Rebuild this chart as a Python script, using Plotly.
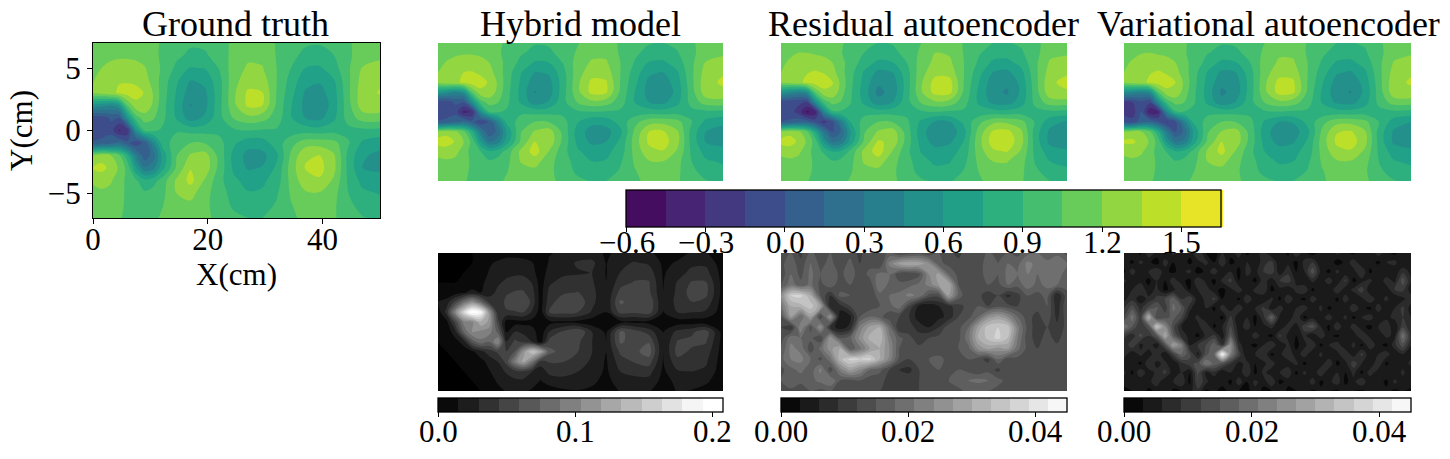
import numpy as np
import plotly.graph_objects as go

W, H = 1450, 459
FONT = "Liberation Serif"

x_grid = [0, 1.5, 3, 4.5, 6, 7.5, 9, 10.5, 12, 14.5, 17, 19.5, 22, 24.5, 27, 29.5, 32, 34.5, 37, 39.5, 42, 44.5, 47, 50]
y_grid = [7, 6, 5, 4, 3, 2, 1, 0, -1, -2, -3, -4, -5, -6, -7]

truth = [
    [1.10,1.10,1.10,1.10,1.10,1.10,1.10,1.09,1.03,0.97,0.92,0.93,0.99,1.08,1.12,1.12,1.04,0.97,0.92,0.91,0.94,1.03,1.12,1.13],
    [1.12,1.13,1.15,1.17,1.17,1.16,1.14,1.10,1.02,0.93,0.87,0.88,0.96,1.10,1.17,1.16,1.04,0.94,0.86,0.85,0.90,1.02,1.14,1.16],
    [1.16,1.20,1.26,1.28,1.28,1.26,1.21,1.13,1.03,0.87,0.74,0.76,0.91,1.13,1.22,1.21,1.05,0.90,0.75,0.73,0.84,1.03,1.21,1.27],
    [1.19,1.26,1.31,1.34,1.33,1.31,1.26,1.14,1.00,0.78,0.60,0.64,0.85,1.15,1.28,1.28,1.05,0.84,0.65,0.62,0.74,1.02,1.27,1.33],
    [1.22,1.25,1.30,1.37,1.42,1.41,1.34,1.19,0.99,0.74,0.52,0.57,0.84,1.17,1.38,1.36,1.04,0.80,0.58,0.54,0.69,1.02,1.30,1.36],
    [0.55,0.50,0.45,0.55,1.05,1.30,1.32,1.17,0.97,0.72,0.44,0.55,0.85,1.16,1.38,1.35,1.02,0.76,0.55,0.47,0.68,1.00,1.29,1.30],
    [-0.10,-0.08,0.02,0.00,0.55,0.98,1.12,1.07,0.95,0.74,0.52,0.63,0.85,1.06,1.15,1.11,0.98,0.76,0.60,0.56,0.72,0.97,1.12,1.13],
    [-0.10,-0.08,-0.05,-0.32,-0.25,0.55,0.92,0.92,0.88,0.88,0.85,0.85,0.86,0.87,0.90,0.88,0.88,0.82,0.84,0.82,0.85,0.85,0.86,0.85],
    [0.02,0.05,0.10,0.20,0.05,-0.10,0.05,0.45,0.80,0.98,1.05,1.04,0.95,0.78,0.66,0.68,0.82,1.00,1.13,1.14,1.10,0.92,0.72,0.66],
    [1.21,1.29,1.22,1.08,0.80,0.35,0.05,0.22,0.62,1.04,1.22,1.27,1.00,0.70,0.55,0.55,0.72,1.08,1.33,1.35,1.22,0.85,0.62,0.56],
    [1.37,1.39,1.32,1.18,1.00,0.62,0.32,0.40,0.68,1.07,1.34,1.30,1.00,0.72,0.58,0.61,0.78,1.12,1.36,1.40,1.24,0.85,0.60,0.56],
    [1.22,1.26,1.22,1.14,1.00,0.92,0.80,0.84,0.96,1.22,1.40,1.18,0.95,0.78,0.70,0.72,0.82,1.10,1.29,1.33,1.17,0.87,0.70,0.68],
    [1.16,1.17,1.16,1.10,1.02,0.98,0.92,0.96,1.00,1.20,1.26,1.10,0.97,0.84,0.76,0.77,0.88,1.07,1.18,1.19,1.10,0.90,0.78,0.74],
    [1.12,1.12,1.12,1.09,1.02,1.00,0.98,1.00,1.04,1.14,1.16,1.09,0.97,0.88,0.82,0.83,0.92,1.04,1.12,1.12,1.07,0.94,0.84,0.80],
    [1.08,1.08,1.08,1.07,1.01,1.00,1.00,1.02,1.07,1.10,1.12,1.09,1.00,0.93,0.90,0.90,0.95,1.02,1.09,1.09,1.06,1.00,0.91,0.87],
]

hybrid = [
    [1.10,1.10,1.10,1.10,1.10,1.10,1.10,1.09,1.02,0.96,0.91,0.92,0.98,1.04,1.12,1.12,1.03,0.96,0.91,0.90,0.93,1.03,1.11,1.12],
    [1.13,1.15,1.16,1.18,1.18,1.16,1.13,1.08,1.00,0.92,0.86,0.87,0.96,1.07,1.16,1.16,1.03,0.93,0.85,0.84,0.89,1.01,1.14,1.16],
    [1.16,1.21,1.27,1.29,1.28,1.26,1.20,1.11,1.01,0.86,0.73,0.75,0.91,1.12,1.22,1.22,1.05,0.89,0.74,0.72,0.82,1.02,1.21,1.29],
    [1.20,1.27,1.32,1.35,1.36,1.32,1.26,1.13,0.99,0.76,0.59,0.62,0.85,1.14,1.29,1.28,1.05,0.83,0.63,0.60,0.73,1.02,1.27,1.34],
    [1.24,1.28,1.31,1.38,1.43,1.41,1.33,1.18,0.98,0.73,0.51,0.55,0.83,1.17,1.39,1.37,1.04,0.79,0.56,0.52,0.68,1.01,1.31,1.37],
    [0.58,0.52,0.43,0.52,1.05,1.31,1.31,1.15,0.96,0.71,0.44,0.53,0.84,1.16,1.40,1.37,1.02,0.75,0.54,0.46,0.66,0.99,1.29,1.32],
    [-0.10,-0.08,0.02,0.00,0.52,0.98,1.11,1.06,0.94,0.73,0.51,0.62,0.86,1.06,1.16,1.12,0.97,0.75,0.60,0.56,0.71,0.96,1.12,1.14],
    [-0.12,-0.10,-0.05,-0.36,-0.28,0.52,0.90,0.91,0.88,0.87,0.85,0.85,0.86,0.87,0.89,0.88,0.87,0.82,0.83,0.82,0.84,0.85,0.86,0.85],
    [0.02,0.06,0.12,0.20,0.05,-0.12,0.02,0.43,0.78,0.97,1.05,1.04,0.95,0.76,0.64,0.66,0.81,1.00,1.14,1.15,1.10,0.91,0.71,0.64],
    [1.25,1.30,1.24,1.09,0.78,0.33,0.03,0.20,0.60,1.04,1.22,1.28,1.00,0.68,0.53,0.54,0.71,1.08,1.35,1.37,1.22,0.84,0.60,0.53],
    [1.42,1.42,1.34,1.20,1.00,0.60,0.30,0.38,0.66,1.07,1.35,1.31,1.00,0.71,0.56,0.60,0.78,1.12,1.38,1.42,1.25,0.84,0.59,0.54],
    [1.25,1.28,1.24,1.15,0.97,0.90,0.78,0.82,0.95,1.23,1.42,1.19,0.95,0.77,0.69,0.71,0.82,1.10,1.30,1.34,1.18,0.87,0.69,0.66],
    [1.17,1.18,1.17,1.11,1.02,0.98,0.92,0.96,1.00,1.21,1.27,1.10,0.97,0.83,0.75,0.76,0.88,1.07,1.19,1.20,1.10,0.90,0.77,0.73],
    [1.12,1.12,1.12,1.09,1.02,1.00,0.98,1.00,1.04,1.14,1.16,1.09,0.97,0.87,0.81,0.82,0.92,1.04,1.12,1.13,1.08,0.94,0.83,0.79],
    [1.08,1.08,1.08,1.07,1.01,1.00,1.00,1.02,1.07,1.10,1.12,1.09,1.00,0.93,0.89,0.90,0.95,1.02,1.09,1.09,1.06,1.00,0.91,0.87],
]

residual = [
    [1.08,1.08,1.10,1.10,1.09,1.09,1.08,1.07,1.00,0.95,0.90,0.91,0.97,1.05,1.12,1.12,1.04,0.97,0.90,0.89,0.92,1.02,1.10,1.10],
    [1.12,1.17,1.20,1.20,1.18,1.16,1.13,1.06,0.98,0.90,0.84,0.86,0.95,1.08,1.20,1.18,1.04,0.92,0.83,0.82,0.88,1.00,1.16,1.17],
    [1.17,1.22,1.26,1.29,1.28,1.26,1.20,1.10,0.99,0.84,0.71,0.74,0.90,1.12,1.24,1.23,1.05,0.88,0.72,0.70,0.80,1.02,1.22,1.28],
    [1.20,1.27,1.30,1.34,1.37,1.34,1.26,1.11,0.97,0.73,0.56,0.60,0.84,1.15,1.30,1.29,1.05,0.81,0.60,0.56,0.70,1.01,1.27,1.33],
    [1.22,1.26,1.30,1.39,1.43,1.44,1.36,1.16,0.96,0.70,0.47,0.52,0.82,1.18,1.42,1.41,1.04,0.76,0.52,0.48,0.64,1.00,1.32,1.40],
    [0.56,0.48,0.40,0.50,1.05,1.30,1.32,1.12,0.94,0.68,0.41,0.50,0.83,1.18,1.41,1.40,1.02,0.72,0.50,0.43,0.63,0.98,1.30,1.33],
    [-0.10,-0.10,-0.12,-0.15,0.50,0.96,1.10,1.04,0.92,0.72,0.50,0.60,0.85,1.07,1.18,1.14,0.96,0.73,0.56,0.52,0.68,0.95,1.13,1.14],
    [-0.10,-0.08,-0.20,-0.48,-0.40,0.42,0.87,0.88,0.85,0.85,0.84,0.84,0.86,0.87,0.89,0.87,0.87,0.81,0.82,0.81,0.83,0.85,0.86,0.84],
    [0.00,0.03,0.10,0.10,-0.05,-0.22,-0.05,0.38,0.74,0.96,1.05,1.04,0.93,0.72,0.58,0.60,0.79,1.00,1.16,1.17,1.10,0.88,0.66,0.58],
    [1.24,1.30,1.24,1.08,0.74,0.28,-0.02,0.16,0.56,1.03,1.22,1.28,0.98,0.66,0.49,0.50,0.70,1.10,1.37,1.40,1.23,0.82,0.57,0.48],
    [1.40,1.42,1.33,1.18,0.98,0.55,0.26,0.33,0.63,1.07,1.37,1.31,0.99,0.69,0.53,0.57,0.76,1.14,1.42,1.45,1.26,0.82,0.56,0.50],
    [1.24,1.27,1.23,1.14,0.96,0.88,0.75,0.78,0.92,1.24,1.43,1.19,0.94,0.74,0.66,0.69,0.80,1.12,1.32,1.36,1.18,0.85,0.67,0.63],
    [1.16,1.17,1.16,1.10,1.02,0.97,0.91,0.95,0.99,1.22,1.28,1.10,0.96,0.80,0.72,0.74,0.86,1.08,1.20,1.21,1.11,0.88,0.75,0.71],
    [1.11,1.11,1.11,1.09,1.02,1.00,0.97,0.99,1.03,1.14,1.16,1.08,0.96,0.85,0.79,0.80,0.91,1.05,1.13,1.14,1.08,0.93,0.82,0.78],
    [1.08,1.08,1.08,1.06,1.01,1.00,0.99,1.01,1.06,1.10,1.11,1.08,0.99,0.92,0.88,0.89,0.94,1.03,1.09,1.10,1.06,0.99,0.90,0.86],
]

variational = [
    [1.10,1.10,1.10,1.10,1.09,1.09,1.08,1.07,1.01,0.95,0.91,0.92,0.97,1.05,1.13,1.13,1.04,0.96,0.90,0.89,0.92,1.03,1.12,1.13],
    [1.13,1.16,1.19,1.20,1.18,1.16,1.13,1.07,0.99,0.91,0.85,0.87,0.95,1.08,1.18,1.17,1.03,0.93,0.84,0.83,0.88,1.01,1.15,1.17],
    [1.17,1.22,1.27,1.29,1.28,1.26,1.20,1.10,1.00,0.85,0.71,0.74,0.90,1.12,1.22,1.22,1.05,0.88,0.73,0.71,0.81,1.02,1.21,1.29],
    [1.20,1.27,1.31,1.34,1.37,1.33,1.26,1.12,0.98,0.74,0.57,0.60,0.84,1.14,1.29,1.29,1.05,0.82,0.62,0.58,0.72,1.01,1.26,1.33],
    [1.22,1.26,1.30,1.38,1.42,1.42,1.35,1.17,0.97,0.71,0.49,0.53,0.82,1.17,1.40,1.38,1.04,0.77,0.54,0.49,0.66,1.00,1.30,1.37],
    [0.50,0.45,0.40,0.48,1.05,1.30,1.31,1.13,0.95,0.69,0.42,0.51,0.83,1.16,1.41,1.38,1.02,0.73,0.51,0.44,0.64,0.98,1.29,1.31],
    [-0.18,-0.15,-0.05,-0.12,0.50,0.96,1.10,1.05,0.93,0.72,0.50,0.61,0.85,1.06,1.16,1.12,0.96,0.74,0.57,0.54,0.69,0.95,1.12,1.13],
    [-0.20,-0.22,0.02,-0.42,-0.35,0.46,0.88,0.89,0.86,0.86,0.85,0.85,0.86,0.87,0.89,0.87,0.87,0.81,0.82,0.81,0.83,0.85,0.86,0.84],
    [-0.05,-0.10,0.10,0.15,0.00,-0.18,-0.02,0.40,0.76,0.96,1.05,1.04,0.94,0.73,0.60,0.62,0.80,1.00,1.14,1.15,1.09,0.89,0.68,0.60],
    [1.20,1.27,1.22,1.08,0.76,0.30,0.00,0.18,0.58,1.03,1.21,1.27,0.99,0.67,0.50,0.52,0.71,1.08,1.34,1.37,1.22,0.83,0.58,0.50],
    [1.38,1.38,1.30,1.18,0.98,0.57,0.28,0.35,0.65,1.07,1.35,1.30,0.99,0.70,0.54,0.58,0.77,1.12,1.38,1.43,1.25,0.83,0.57,0.52],
    [1.23,1.26,1.22,1.14,0.96,0.89,0.76,0.80,0.93,1.22,1.40,1.18,0.94,0.75,0.67,0.70,0.81,1.10,1.30,1.33,1.17,0.86,0.68,0.64],
    [1.16,1.17,1.16,1.10,1.02,0.97,0.91,0.95,0.99,1.20,1.26,1.10,0.96,0.81,0.73,0.75,0.87,1.07,1.18,1.19,1.10,0.89,0.76,0.72],
    [1.12,1.12,1.12,1.09,1.02,1.00,0.98,1.00,1.04,1.14,1.15,1.08,0.96,0.86,0.80,0.81,0.91,1.04,1.12,1.12,1.07,0.93,0.83,0.79],
    [1.09,1.09,1.09,1.07,1.01,1.00,1.00,1.02,1.07,1.10,1.11,1.08,1.00,0.93,0.89,0.90,0.95,1.03,1.10,1.10,1.07,1.00,0.91,0.87],
]

# error fields, in thousandths
hybrid_err_x = [0, 1.5, 3, 4.5, 6, 7.5, 9, 10.5, 12, 13.5, 15, 16.5, 18, 19.5, 22, 24.5, 27, 29.5, 32, 34.5, 37, 39.5, 42, 44.5, 47, 50]
hybrid_err = [
    [0,0,0,0,0,1,4,8,10,10,9,6,5,14,17,20,20,13,18,20,18,8,11,16,16,4],
    [0,0,0,0,0,4,13,17,20,20,19,16,6,16,22,32,34,14,26,31,27,12,16,26,26,6],
    [0,0,0,0,1,8,16,22,25,27,26,20,7,20,26,28,30,14,30,38,38,13,23,34,35,8],
    [0,0,0,1,4,12,19,27,33,36,37,29,8,27,36,36,32,15,38,46,46,14,31,46,46,8],
    [1,3,7,13,20,14,22,34,42,46,46,36,8,34,42,45,35,16,50,50,48,15,33,51,49,8],
    [16,22,50,85,110,80,40,30,50,48,60,40,8,38,55,56,34,16,62,52,58,15,35,44,40,7],
    [6,35,100,160,205,190,110,35,42,44,45,28,7,45,50,45,28,15,50,48,52,14,30,30,27,6],
    [2,10,50,95,100,130,115,50,8,8,10,9,3,9,12,10,6,3,10,11,10,4,7,7,6,2],
    [0,3,25,75,105,100,95,70,14,30,26,22,5,30,48,60,30,12,62,52,38,14,34,42,52,7],
    [0,3,8,22,65,85,75,105,30,48,40,30,8,50,56,48,30,15,62,52,58,15,46,48,46,8],
    [0,0,1,6,12,25,38,48,45,60,110,150,125,65,52,45,30,15,48,55,68,15,50,42,38,7],
    [0,0,0,1,3,10,20,30,50,95,125,90,40,46,45,38,27,13,38,46,52,14,40,35,32,6],
    [0,0,0,0,1,3,14,22,32,40,42,30,20,35,36,30,24,12,30,35,36,12,28,30,27,5],
    [0,0,0,0,0,1,8,17,22,26,26,20,14,20,24,22,18,10,22,24,24,10,18,20,18,3],
    [0,0,0,0,0,0,3,10,16,17,17,13,8,8,12,14,12,6,16,17,16,6,16,14,8,1],
]

residual_err = [
    [12,15,11,16,13,15,12,14,11,15,13,16,12,13,14,12,15,13,11,14,12,16,13,15,14,17,18,16,17,14],
    [14,17,13,18,14,16,13,16,12,14,12,22,28,30,29,25,16,14,13,15,13,17,15,18,17,22,20,19,21,18],
    [13,18,14,19,15,18,14,17,13,16,19,18,13,12,14,24,28,18,14,13,14,16,15,19,18,21,18,20,19,17],
    [15,20,16,19,14,17,13,15,12,13,21,17,16,17,19,22,27,30,15,13,14,15,14,18,16,20,17,19,18,16],
    [24,36,37,30,15,9,16,15,14,12,17,18,19,22,20,14,13,28,17,12,13,10,12,8,11,15,14,16,6,14],
    [20,30,32,35,28,6,8,12,14,13,15,17,20,12,5,4,6,8,11,13,15,12,14,13,12,14,13,15,7,15],
    [14,27,18,28,12,26,3,5,15,18,16,13,12,9,4,3,5,7,12,14,18,25,28,24,18,13,11,14,8,14],
    [12,9,24,14,25,8,4,7,22,28,30,19,9,10,8,6,9,14,14,18,28,35,36,35,22,14,10,12,10,13],
    [13,20,18,16,12,26,15,17,25,31,33,22,16,13,10,12,13,15,14,20,30,34,37,33,21,13,11,13,11,14],
    [15,22,20,13,19,26,30,16,20,27,30,24,15,14,13,14,13,15,15,17,25,28,26,27,19,14,12,14,13,13],
    [17,21,22,18,14,20,32,37,36,37,30,23,14,12,14,15,16,14,14,15,13,11,18,13,14,15,14,14,14,13],
    [14,17,19,16,22,13,22,28,24,18,16,12,9,8,12,13,15,14,15,14,12,14,11,15,13,14,13,15,13,12],
    [15,18,16,17,19,21,15,14,15,13,13,11,10,11,12,14,13,15,17,18,19,18,16,14,14,13,14,14,12,13],
    [13,14,13,15,14,15,13,12,13,12,12,11,12,11,12,13,13,13,14,16,15,15,14,13,12,12,13,12,13,12],
]

variational_err = [
    [3,6,2,8,5,2,7,3,4,9,3,1,6,4,8,2,5,7,3,6,2,9,4,1,5,3,7,4,2,6,3,8,4,2,5,3],
    [5,2,7,4,1,8,3,6,2,5,7,3,9,2,4,6,3,8,10,3,5,2,7,9,3,6,1,4,8,3,5,2,6,7,3,6],
    [2,8,3,6,9,4,2,5,7,1,4,8,3,6,2,7,5,9,11,4,8,3,6,14,5,2,7,3,5,9,2,6,3,4,8,5],
    [7,3,5,2,6,3,8,4,2,9,5,2,7,10,3,5,2,8,4,9,11,5,3,7,4,8,3,10,2,5,7,3,8,5,14,6],
    [3,6,9,4,7,2,5,9,3,6,8,4,2,5,8,3,7,9,2,5,3,7,9,2,6,3,9,4,7,11,3,6,4,9,10,4],
    [5,8,4,7,10,12,17,9,12,4,7,10,3,6,2,9,4,3,7,2,9,4,2,8,4,6,2,8,3,5,9,4,7,3,5,8],
    [9,14,8,13,16,10,19,15,7,3,6,2,8,4,9,3,6,10,4,8,3,6,8,3,7,2,5,3,9,4,2,8,3,6,10,4],
    [12,20,10,31,12,14,16,12,4,7,3,5,2,10,3,6,2,8,17,5,3,9,2,5,4,8,3,7,2,6,8,3,5,7,9,6],
    [21,15,9,14,35,24,13,6,3,5,9,2,6,12,4,8,3,5,7,3,8,4,11,14,6,2,9,3,8,4,2,6,9,3,11,7],
    [10,7,13,9,15,30,16,8,5,2,7,10,4,16,5,3,8,4,2,10,5,3,7,3,8,4,2,6,4,9,5,3,7,5,20,8],
    [6,12,5,8,4,14,28,22,6,9,12,17,9,25,7,4,2,6,9,3,7,2,5,9,2,6,8,3,7,2,9,4,2,8,14,6],
    [8,3,7,4,9,3,11,18,13,5,14,18,44,22,11,3,6,9,2,5,9,4,8,3,7,3,5,9,4,10,3,6,8,3,6,5],
    [3,6,2,9,5,7,3,8,11,13,21,17,14,9,5,7,3,5,8,3,4,7,2,6,4,9,2,5,11,6,3,9,2,6,4,7],
    [7,2,9,4,7,10,4,6,3,13,5,8,3,6,4,9,2,7,4,6,9,2,7,3,9,3,6,3,7,2,8,4,6,3,7,3],
    [4,6,3,5,8,3,6,9,2,12,7,3,5,2,8,3,7,4,9,2,4,6,3,8,2,5,8,2,5,9,3,5,2,7,4,5],
    [2,3,5,2,4,6,2,3,5,8,2,4,1,5,3,2,5,2,3,6,2,3,5,2,4,3,2,5,3,2,4,3,4,2,3,2],
]

titles = ["Ground truth", "Hybrid model", "Residual autoencoder", "Variational autoencoder"]
title_centers = [235, 580, 923, 1268]
field_ticks = [-0.6, -0.3, 0.0, 0.3, 0.6, 0.9, 1.2, 1.5]
hybrid_err_ticks = [0.0, 0.1, 0.2]
small_err_ticks = [0.0, 0.02, 0.04]
GRAY = [[0, "#000000"], [1, "#ffffff"]]
TICK_SIZE = 31


def xdom(a, b):
    return [a / W, b / W]


def ydom(top, bottom):
    return [1 - bottom / H, 1 - top / H]


fig = go.Figure()


def bar(x0, x1, top, bottom, ticks, zmin, zmax, fmt, label_y):
    # horizontal colorbar placed in pixels; labels sit closer than colorbar tick labels can
    for v in ticks:
        px = x0 + (v - zmin) / (zmax - zmin) * (x1 - x0)
        fig.add_annotation(text=format(v, fmt).replace("-", "\u2212"), x=px / W, y=1 - label_y / H, xref="paper", yref="paper",
                           xanchor="center", yanchor="middle", showarrow=False,
                           font=dict(family=FONT, size=TICK_SIZE, color="black"))
    return dict(orientation="h", x=(x0 + x1) / 2 / W, xanchor="center", y=1 - top / H, yanchor="top",
                len=x1 - x0, lenmode="pixels", thickness=bottom - top, thicknessmode="pixels",
                xpad=0, ypad=0, outlinecolor="black", outlinewidth=1.3, ticks="outside", ticklen=5,
                tickwidth=1, tickcolor="black", tickvals=ticks, showticklabels=False)


def add_panel(n, x, y, z, box, zmin, zmax, size, colorscale, cbar=None):
    name = "" if n == 1 else str(n)
    fig.add_trace(go.Contour(
        x=x, y=y, z=z, xaxis="x" + name, yaxis="y" + name,
        zmin=zmin, zmax=zmax, colorscale=colorscale,
        contours=dict(start=zmin, end=zmax, size=size, coloring="fill", showlines=False),
        line_width=0, showscale=cbar is not None, colorbar=cbar, hoverinfo="skip",
    ))
    axis = dict(visible=False, range=[min(x), max(x)], domain=xdom(box[0], box[1]), anchor="y" + name, fixedrange=True)
    yaxis = dict(visible=False, range=[-7, 7], domain=ydom(box[2], box[3]), anchor="x" + name, fixedrange=True)
    fig.update_layout({"xaxis" + name: axis, "yaxis" + name: yaxis})


FIELD = dict(zmin=-0.6, zmax=1.65, size=0.15, colorscale="Viridis")
add_panel(1, x_grid, y_grid, np.array(truth), (93, 380, 43, 218), **FIELD)
add_panel(2, x_grid, y_grid, np.array(hybrid), (438, 723, 43, 181), **FIELD,
          cbar=bar(626.5, 1221, 190, 227, field_ticks, -0.6, 1.65, ".1f", 242))
add_panel(3, x_grid, y_grid, np.array(residual), (781, 1067, 43, 181), **FIELD)
add_panel(4, x_grid, y_grid, np.array(variational), (1124, 1411, 43, 181), **FIELD)

residual_x = np.linspace(0, 50, len(residual_err[0]))
residual_y = np.linspace(7, -7, len(residual_err))
variational_x = np.linspace(0, 50, len(variational_err[0]))
variational_y = np.linspace(7, -7, len(variational_err))

add_panel(5, hybrid_err_x, y_grid, np.array(hybrid_err) / 1000, (438, 723, 253, 391), 0, 0.2076, 0.01483, GRAY,
          cbar=bar(438, 723, 398, 412, hybrid_err_ticks, 0, 0.2076, ".1f", 431))
add_panel(6, residual_x, residual_y, np.array(residual_err) / 1000, (781, 1067, 253, 391), 0, 0.045, 0.003, GRAY,
          cbar=bar(781, 1067, 398, 412, small_err_ticks, 0, 0.045, ".2f", 431))
add_panel(7, variational_x, variational_y, np.array(variational_err) / 1000, (1124, 1411, 253, 391), 0, 0.045, 0.003, GRAY,
          cbar=bar(1124, 1411, 398, 412, small_err_ticks, 0, 0.045, ".2f", 431))

tick_font = dict(family=FONT, size=TICK_SIZE, color="black")
fig.update_layout(
    xaxis=dict(visible=True, showline=True, mirror=True, linecolor="black", linewidth=1, ticks="outside", ticklen=5,
               tickcolor="black", tickvals=[0, 20, 40], tickfont=tick_font, showgrid=False, zeroline=False,
               ticklabelstandoff=-11, title=dict(text="X(cm)", font=tick_font, standoff=0)),
    yaxis=dict(visible=True, showline=True, mirror=True, linecolor="black", linewidth=1, ticks="outside", ticklen=5,
               tickcolor="black", tickvals=[-5, 0, 5], tickfont=tick_font, showgrid=False, zeroline=False,
               title=dict(text="Y(cm)", font=tick_font, standoff=5)),
)

for text, cx in zip(titles, title_centers):
    fig.add_annotation(text=text, x=cx / W, y=1 - 24 / H, xref="paper", yref="paper", xanchor="center", yanchor="middle",
                       showarrow=False, font=dict(family=FONT, size=36, color="black"))

fig.update_layout(width=W, height=H, margin=dict(l=0, r=0, t=0, b=0, autoexpand=False), paper_bgcolor="white",
                  plot_bgcolor="white", showlegend=False)

fig.write_html("out.html", post_script="document.body.style.margin='0';", config=dict(displayModeBar=False))
